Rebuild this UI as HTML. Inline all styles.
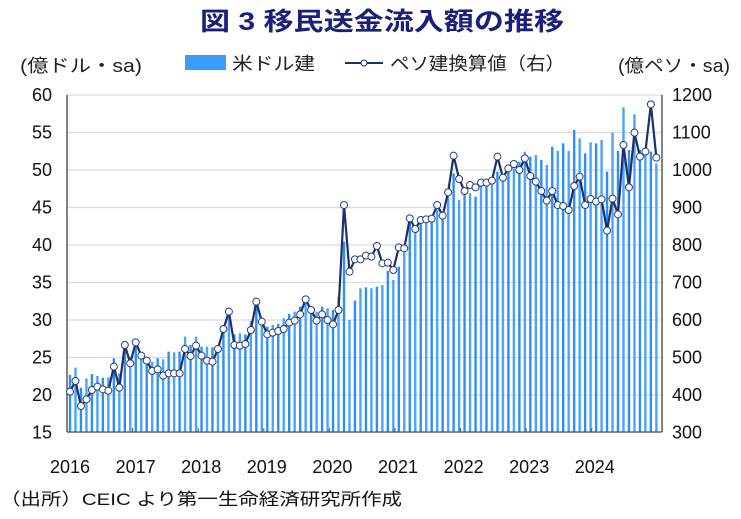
<!DOCTYPE html>
<html><head><meta charset="utf-8"><style>
body{margin:0;background:#fff;width:741px;height:519px;overflow:hidden}
svg{display:block}
text{font-family:"Liberation Sans","Noto Sans CJK JP",sans-serif}
</style></head><body>
<svg id="s" width="741" height="519" xmlns="http://www.w3.org/2000/svg">
<text x="200" y="30" font-size="25" font-weight="bold" fill="#1a1f7a" textLength="364" lengthAdjust="spacingAndGlyphs">図 3  移民送金流入額の推移</text>
<text x="20" y="72" font-size="18" fill="#222" textLength="122" lengthAdjust="spacingAndGlyphs">(億ドル・sa)</text>
<rect x="185" y="55" width="41" height="15" fill="#3b9cff"/>
<text x="232" y="70" font-size="18" fill="#222" textLength="83" lengthAdjust="spacingAndGlyphs">米ドル建</text>
<line x1="345" y1="63" x2="383" y2="63" stroke="#1c2f6e" stroke-width="2"/>
<circle cx="364" cy="63" r="3" fill="#fff" stroke="#1c2f6e" stroke-width="1"/>
<text x="390" y="70" font-size="18" fill="#222" textLength="175" lengthAdjust="spacingAndGlyphs">ペソ建換算値（右）</text>
<text x="618" y="72" font-size="18" fill="#222" textLength="112" lengthAdjust="spacingAndGlyphs">(億ペソ・sa)</text>
<g id="g"></g>
<text x="0" y="505" font-size="17" fill="#111" textLength="402" lengthAdjust="spacingAndGlyphs">（出所）CEIC より第一生命経済研究所作成</text>
</svg>
<script>
(function(){
var g=document.getElementById('g');var h='';
var T=95,B=432,L=67,R=662;
for(var i=0;i<10;i++){var y=T+i*37.5;h+='<line x1="'+L+'" y1="'+y+'" x2="'+R+'" y2="'+y+'" stroke="#dcdcdc" stroke-width="1.3"/>';
h+='<text x="52" y="'+(y+6)+'" font-size="18" text-anchor="end" fill="#111">'+(60-5*i)+'</text>';
h+='<text x="672" y="'+(y+6)+'" font-size="18" fill="#111">'+(1200-100*i)+'</text>';}
var bars=[855,833,893,865,852,858,863,862,805,850,775,800,770,790,805,815,805,808,785,787,785,740,765,740,770,770,772,768,728,680,733,730,733,693,648,690,710,705,702,685,672,665,650,640,660,665,650,655,660,620,455,690,632,595,592,595,590,585,543,570,530,470,395,410,395,385,390,360,365,305,250,330,313,310,320,285,280,275,245,265,240,235,215,185,200,195,210,225,170,183,160,183,120,145,190,157,160,150,245,128,183,52,180,73,180,180,185,220];
var line=[905,873,948,928,900,890,898,902,830,893,765,820,757,797,812,843,838,857,850,850,850,777,798,767,797,812,815,777,717,665,765,767,762,720,635,695,733,728,723,717,698,692,673,628,660,692,673,690,703,660,345,545,508,508,497,500,468,520,518,540,472,475,385,417,390,388,386,345,377,307,197,267,303,285,292,278,278,272,200,263,235,222,240,205,258,275,303,332,303,345,348,360,288,260,345,327,335,328,422,326,373,165,292,128,200,185,43,203];
function X(i){return 70+i*5.48;}
bars.forEach(function(b,i){var y=90+b/3;h+='<rect x="'+(X(i)-1.2)+'" y="'+y+'" width="2.4" height="'+(B-y)+'" fill="'+(i%2?'#4aa3ff':'#2f8ff0')+'"/>';});
h+='<line x1="'+L+'" y1="'+T+'" x2="'+L+'" y2="'+B+'" stroke="#333" stroke-width="1.2"/>';
h+='<line x1="'+R+'" y1="'+T+'" x2="'+R+'" y2="'+B+'" stroke="#333" stroke-width="1.2"/>';
h+='<line x1="'+L+'" y1="'+B+'" x2="'+R+'" y2="'+B+'" stroke="#555" stroke-width="1.2"/>';
for(var k=0;k<9;k++){var x=L+k*65.6;if(k)h+='<line x1="'+x+'" y1="'+(B-4)+'" x2="'+x+'" y2="'+B+'" stroke="#555"/>';
h+='<text x="'+(70+k*65.6)+'" y="473" font-size="18" text-anchor="middle" fill="#111">'+(2016+k)+'</text>';}
h+='<polyline fill="none" stroke="#1c2f6e" stroke-width="2.2" points="'+line.map(function(v,i){return X(i)+','+(90+v/3);}).join(' ')+'"/>';
line.forEach(function(v,i){h+='<circle cx="'+X(i)+'" cy="'+(90+v/3)+'" r="3.5" fill="#fff" stroke="#2a3f7e" stroke-width="1"/>';});
g.innerHTML=h;
})();
</script>
</body></html>
